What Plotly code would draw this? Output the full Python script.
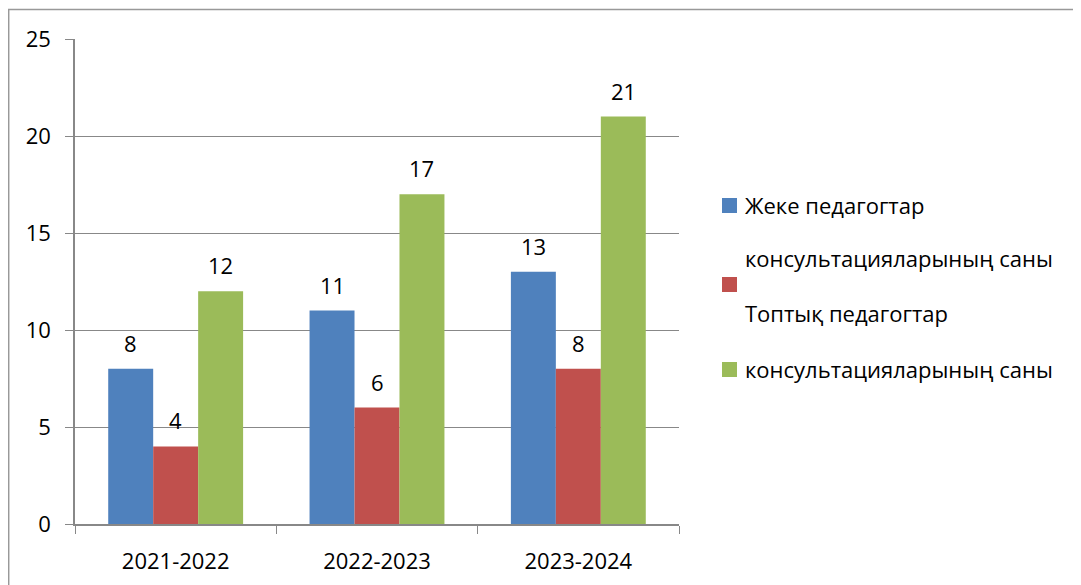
import plotly.graph_objects as go

categories = ["2021-2022", "2022-2023", "2023-2024"]
series_names = ["Жеке педагогтар консультацияларының саны",
                "Топтық педагогтар консультацияларының саны",
                "консультацияларының саны"]
values_individual = [8, 11, 13]
values_group = [4, 6, 8]
values_total = [12, 17, 21]
colors = ["#4F81BD", "#C0504D", "#9BBB59"]
legend_lines = ["Жеке педагогтар", "консультацияларының саны", "Топтық педагогтар", "консультацияларының саны"]

FONT = "Open Sans"
FS = 22
# page body has an 8px margin, so the figure is drawn 8px smaller and offset
OFF = 8
W, H = 1081 - OFF, 585 - OFF
L, R, T, B = 75 - OFF, 679 - OFF, 39 - OFF, 524 - OFF  # plot area in figure px

all_series = [values_individual, values_group, values_total]

fig = go.Figure()
for name, vals, col in zip(series_names, all_series, colors):
    fig.add_trace(go.Bar(
        x=categories, y=vals, name=name, marker_color=col, marker_line_width=0,
        showlegend=False,
    ))

# value labels above each bar (positioned through the axes)
bar_px = (R - L) / len(categories) * (1 - 0.33) / len(all_series)
for i, vals in enumerate(all_series):
    for cat, v in zip(categories, vals):
        fig.add_annotation(x=cat, y=v, xref="x", yref="y", text=str(v), showarrow=False,
                           xshift=(i - 1) * bar_px, yshift=26, yanchor="middle",
                           font=dict(family=FONT, size=FS, color="#000"))

fig.update_layout(
    width=W, height=H,
    margin=dict(l=L, r=W - R, t=T, b=H - B, autoexpand=False),
    paper_bgcolor="white", plot_bgcolor="white",
    barmode="group", bargap=0.33, bargroupgap=0,
    font=dict(family=FONT, size=FS, color="#000"),
    xaxis=dict(type="category", showgrid=False, showline=True, linecolor="#888", linewidth=1.5,
               ticks="outside", tickson="boundaries", ticklen=8, tickcolor="#888",
               ticklabelstandoff=17, tickfont=dict(family=FONT, size=FS)),
    yaxis=dict(range=[0, 25], dtick=5, showgrid=True, gridcolor="#888", gridwidth=1,
               showline=True, linecolor="#888", linewidth=1.5, ticks="outside", ticklen=8,
               tickcolor="#888", zeroline=False, ticklabelstandoff=10,
               tickfont=dict(family=FONT, size=FS)),
)

pw = R - L
ph = B - T
def lx(px):
    return (px - OFF - L) / pw
def ly(py):
    return (B - (py - OFF)) / ph

# outer border (reference page px)
fig.add_shape(type="rect", xref="paper", yref="paper",
              x0=lx(8.7), x1=lx(1100), y0=ly(600), y1=ly(9.5),
              line=dict(color="#999", width=1.5), layer="below")

# manual legend (reference page px)
marker_y = [205, 284, 369]
for col, my in zip(colors, marker_y):
    fig.add_shape(type="rect", xref="paper", yref="paper",
                  x0=lx(722), x1=lx(737), y0=ly(my + 8), y1=ly(my - 7),
                  fillcolor=col, line=dict(width=0))

text_y = [205, 258, 313, 369]
for t, ty in zip(legend_lines, text_y):
    fig.add_annotation(xref="paper", yref="paper", x=lx(743), y=ly(ty), text=t,
                       showarrow=False, xanchor="left", yanchor="middle",
                       font=dict(family=FONT, size=FS, color="#000"))

fig.write_html("out.html")
